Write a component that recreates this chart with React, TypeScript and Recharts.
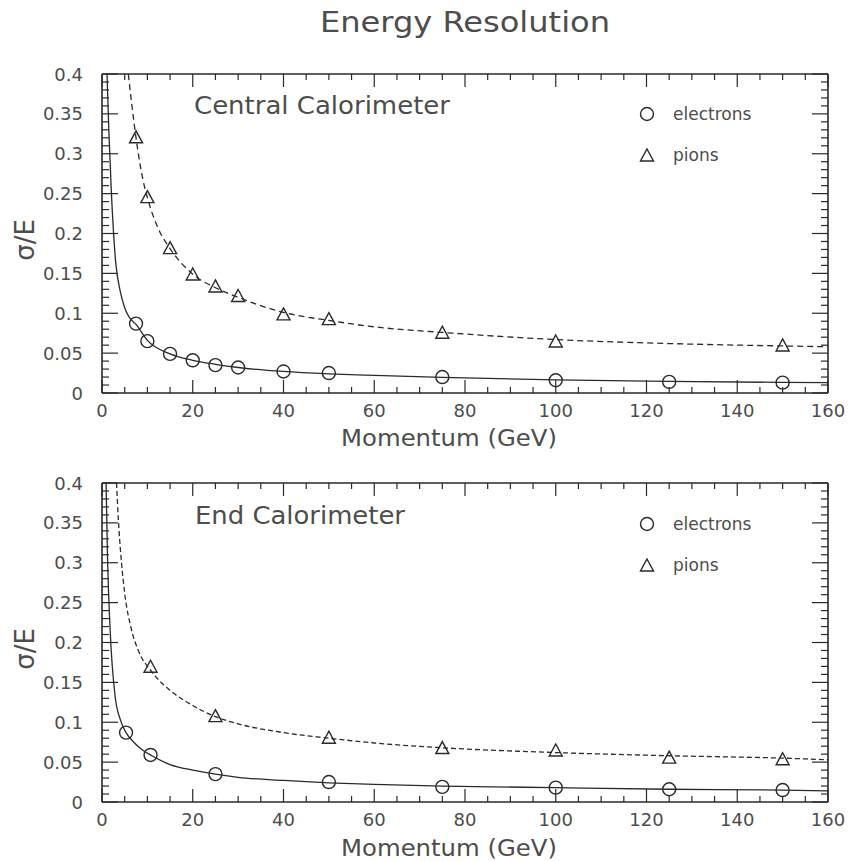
import React from "react";
import { ComposedChart, XAxis, YAxis, Line, Scatter, Legend } from "recharts";

// measured points, central calorimeter
const centralElectronP = [7.5, 10, 15, 20, 25, 30, 40, 50, 75, 100, 125, 150];
const centralElectronRes = [0.087, 0.065, 0.049, 0.041, 0.035, 0.032, 0.027, 0.025, 0.02, 0.016, 0.014, 0.013];
const centralPionP = [7.5, 10, 15, 20, 25, 30, 40, 50, 75, 100, 150];
const centralPionRes = [0.32, 0.245, 0.181, 0.148, 0.133, 0.121, 0.098, 0.092, 0.075, 0.064, 0.059];

// fit curves, central calorimeter
const centralElectronFitP = [1.1, 1.5, 2, 3, 4, 5, 6, 7.5, 10, 15, 20, 25, 30, 40, 50, 60, 75, 100, 125, 150, 160];
const centralElectronFitRes = [0.4, 0.33, 0.26, 0.165, 0.128, 0.107, 0.095, 0.086, 0.066, 0.049, 0.041, 0.036, 0.032, 0.027, 0.024, 0.022, 0.0195, 0.0165, 0.0145, 0.0133, 0.013];
const centralPionFitP = [5.8, 6.5, 7.5, 9, 10, 12.5, 15, 20, 25, 30, 40, 50, 60, 75, 100, 125, 150, 160];
const centralPionFitRes = [0.4, 0.365, 0.32, 0.268, 0.245, 0.205, 0.181, 0.149, 0.132, 0.12, 0.101, 0.091, 0.083, 0.076, 0.067, 0.062, 0.059, 0.058];

// measured points, end calorimeter
const endElectronP = [5.3, 10.7, 25, 50, 75, 100, 125, 150];
const endElectronRes = [0.087, 0.059, 0.035, 0.025, 0.019, 0.018, 0.016, 0.015];
const endPionP = [10.7, 25, 50, 75, 100, 125, 150];
const endPionRes = [0.169, 0.107, 0.08, 0.067, 0.064, 0.055, 0.053];

// fit curves, end calorimeter
const endElectronFitP = [0.9, 1.2, 1.8, 2.9, 4, 5.3, 7, 9, 11, 15, 20, 25, 30, 40, 50, 60, 75, 100, 125, 150, 160];
const endElectronFitRes = [0.4, 0.31, 0.215, 0.132, 0.104, 0.087, 0.075, 0.065, 0.058, 0.047, 0.04, 0.035, 0.031, 0.027, 0.024, 0.022, 0.02, 0.018, 0.016, 0.015, 0.014];
const endPionFitP = [3.2, 3.6, 4.3, 5, 6.5, 8, 11, 15, 20, 25, 30, 40, 50, 60, 75, 100, 125, 150, 160];
const endPionFitRes = [0.4, 0.355, 0.3, 0.262, 0.216, 0.19, 0.163, 0.14, 0.121, 0.107, 0.098, 0.087, 0.08, 0.074, 0.068, 0.062, 0.058, 0.055, 0.053];

const seriesNames = ["electrons", "pions"];
const xTicks = Array.from({ length: 33 }, (_, i) => i * 5);
const yTicks = Array.from({ length: 41 }, (_, i) => i / 100);

const INK = "#2a2a2a";
const TEXT = "#4d4d4d";
const FONT = "'DejaVu Sans', sans-serif";

const zip = (p: number[], v: number[]) => p.map((x, i) => ({ p: x, v: v[i] }));

const isMajorY = (v: number) => Math.round(v * 100) % 5 === 0;

const BottomTick = ({ x, y, payload }: any) => {
  const major = payload.value % 20 === 0;
  return (
    <g>
      <line x1={x} x2={x} y1={y} y2={y - (major ? 13 : 6)} stroke={INK} strokeWidth={1.2} />
      {major && (
        <text x={x} y={y + 24} textAnchor="middle" fontSize={18} fill={TEXT} fontFamily={FONT}>
          {payload.value}
        </text>
      )}
    </g>
  );
};

const TopTick = ({ x, y, payload }: any) => {
  const major = payload.value % 20 === 0;
  return <line x1={x} x2={x} y1={y} y2={y + (major ? 13 : 6)} stroke={INK} strokeWidth={1.2} />;
};

const LeftTick = ({ x, y, payload }: any) => {
  const major = isMajorY(payload.value);
  return (
    <g>
      <line x1={x} x2={x + (major ? 16 : 7)} y1={y} y2={y} stroke={INK} strokeWidth={1.2} />
      {major && (
        <text x={x - 19} y={y + 6.5} textAnchor="end" fontSize={18} fill={TEXT} fontFamily={FONT}>
          {String(Math.round(payload.value * 100) / 100)}
        </text>
      )}
    </g>
  );
};

const RightTick = ({ x, y, payload }: any) => {
  const major = isMajorY(payload.value);
  return <line x1={x} x2={x - (major ? 16 : 7)} y1={y} y2={y} stroke={INK} strokeWidth={1.2} />;
};

const CircleDot = ({ cx, cy }: any) => (
  <circle cx={cx} cy={cy} r={6.5} fill="none" stroke={INK} strokeWidth={1.4} />
);

const TriangleDot = ({ cx, cy }: any) => (
  <path d={`M${cx},${cy - 7}L${cx + 6.5},${cy + 5}L${cx - 6.5},${cy + 5}Z`} fill="none" stroke={INK} strokeWidth={1.4} />
);

const LegendBox = ({ payload }: any) => (
  <div style={{ fontFamily: FONT, fontSize: 17, color: TEXT }}>
    {(payload || [])
      .filter((entry: any) => entry.type !== "none" && seriesNames.includes(entry.value))
      .map((entry: any) => (
        <div key={entry.value} style={{ display: "flex", alignItems: "center", height: 41 }}>
          <svg width={20} height={20}>
            {entry.value === "electrons" ? <CircleDot cx={10} cy={10} /> : <TriangleDot cx={10} cy={11} />}
          </svg>
          <span style={{ marginLeft: 16 }}>{entry.value}</span>
        </div>
      ))}
  </div>
);

interface PanelProps {
  top: number;
  height: number;
  plotTop: number;
  plotBottom: number;
  electrons: { p: number; v: number }[];
  pions: { p: number; v: number }[];
  electronFit: { p: number; v: number }[];
  pionFit: { p: number; v: number }[];
  dash: string;
  legendTop: number;
}

const Panel = ({ top, height, plotTop, plotBottom, electrons, pions, electronFit, pionFit, dash, legendTop }: PanelProps) => {
  const bottomAxisH = 40;
  return (
    <div style={{ position: "absolute", left: 0, top }}>
      <ComposedChart
        width={850}
        height={height}
        margin={{ top: plotTop - 1, right: 21, left: 42, bottom: height - plotBottom - bottomAxisH }}
      >
        <XAxis
          xAxisId="b"
          dataKey="p"
          type="number"
          domain={[0, 160]}
          allowDataOverflow
          ticks={xTicks}
          interval={0}
          tickSize={0}
          tickMargin={0}
          tickLine={false}
          height={bottomAxisH}
          axisLine={{ stroke: INK, strokeWidth: 1.6 }}
          tick={BottomTick}
        />
        <XAxis
          xAxisId="t"
          orientation="top"
          dataKey="p"
          type="number"
          domain={[0, 160]}
          allowDataOverflow
          ticks={xTicks}
          interval={0}
          tickSize={0}
          tickMargin={0}
          tickLine={false}
          height={1}
          axisLine={{ stroke: INK, strokeWidth: 1.6 }}
          tick={TopTick}
        />
        <YAxis
          yAxisId="l"
          dataKey="v"
          type="number"
          domain={[0, 0.4]}
          allowDataOverflow
          ticks={yTicks}
          interval={0}
          tickSize={0}
          tickMargin={0}
          tickLine={false}
          width={60}
          axisLine={{ stroke: INK, strokeWidth: 1.6 }}
          tick={LeftTick}
        />
        <YAxis
          yAxisId="r"
          orientation="right"
          dataKey="v"
          type="number"
          domain={[0, 0.4]}
          allowDataOverflow
          ticks={yTicks}
          interval={0}
          tickSize={0}
          tickMargin={0}
          tickLine={false}
          width={1}
          axisLine={{ stroke: INK, strokeWidth: 1.6 }}
          tick={RightTick}
        />
        <Legend
          layout="vertical"
          align="center"
          verticalAlign="middle"
          wrapperStyle={{ left: 637, top: legendTop, width: 160 }}
          content={<LegendBox />}
        />
        <Line
          xAxisId="b"
          yAxisId="l"
          data={electronFit}
          dataKey="v"
          type="monotone"
          stroke={INK}
          strokeWidth={1.3}
          dot={false}
          legendType="none"
          isAnimationActive={false}
        />
        <Line
          xAxisId="b"
          yAxisId="l"
          data={pionFit}
          dataKey="v"
          type="monotone"
          stroke={INK}
          strokeWidth={1.3}
          strokeDasharray={dash}
          dot={false}
          legendType="none"
          isAnimationActive={false}
        />
        <Scatter
          xAxisId="b"
          yAxisId="l"
          name="electrons"
          data={electrons}
          dataKey="v"
          shape={CircleDot}
          isAnimationActive={false}
        />
        <Scatter
          xAxisId="b"
          yAxisId="l"
          name="pions"
          data={pions}
          dataKey="v"
          shape={TriangleDot}
          isAnimationActive={false}
        />
      </ComposedChart>
    </div>
  );
};

export default function App() {
  return (
    <div style={{ position: "absolute", left: 0, top: 0, width: 850, height: 861, background: "#fff" }}>
      <Panel
        top={0}
        height={460}
        plotTop={74}
        plotBottom={393}
        electrons={zip(centralElectronP, centralElectronRes)}
        pions={zip(centralPionP, centralPionRes)}
        electronFit={zip(centralElectronFitP, centralElectronFitRes)}
        pionFit={zip(centralPionFitP, centralPionFitRes)}
        dash="6 4"
        legendTop={93}
      />
      <Panel
        top={460}
        height={401}
        plotTop={23}
        plotBottom={342}
        electrons={zip(endElectronP, endElectronRes)}
        pions={zip(endPionP, endPionRes)}
        electronFit={zip(endElectronFitP, endElectronFitRes)}
        pionFit={zip(endPionFitP, endPionFitRes)}
        dash="5 3"
        legendTop={43}
      />
      <svg width={850} height={861} style={{ position: "absolute", left: 0, top: 0, pointerEvents: "none" }}>
        <g fontFamily={FONT} fill={TEXT}>
          <text x={465} y={32} fontSize={28} textAnchor="middle" textLength={290} lengthAdjust="spacingAndGlyphs">
            Energy Resolution
          </text>
          <text x={194} y={114} fontSize={24} textLength={256} lengthAdjust="spacingAndGlyphs">
            Central Calorimeter
          </text>
          <text x={195} y={524} fontSize={24} textLength={210} lengthAdjust="spacingAndGlyphs">
            End Calorimeter
          </text>
          <text transform="translate(34,240) rotate(-90)" fontSize={26} textAnchor="middle">
            σ/E
          </text>
          <text transform="translate(34,649) rotate(-90)" fontSize={26} textAnchor="middle">
            σ/E
          </text>
          <text x={449} y={446} fontSize={23} textAnchor="middle" textLength={216} lengthAdjust="spacingAndGlyphs">
            Momentum (GeV)
          </text>
          <text x={449} y={856} fontSize={23} textAnchor="middle" textLength={216} lengthAdjust="spacingAndGlyphs">
            Momentum (GeV)
          </text>
        </g>
      </svg>
    </div>
  );
}
